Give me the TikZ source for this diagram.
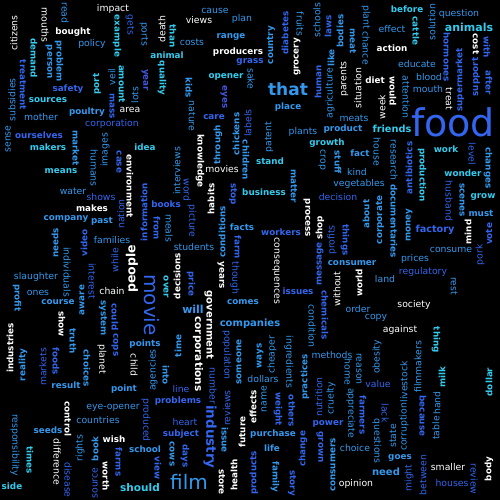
\documentclass[tikz,border=0pt]{standalone}
\usepackage{fontspec}
\setmainfont{DejaVu Sans}
\definecolor{cya}{HTML}{33CCEE}
\definecolor{sky}{HTML}{3399EE}
\definecolor{blu}{HTML}{3366EE}
\definecolor{ind}{HTML}{4455DD}
\begin{document}
\begin{tikzpicture}[x=1pt,y=-1pt,
	bw/.style={font=\bfseries\fontsize{#1}{#1}\selectfont}, bw/.default=8.8,
	rw/.style={font=\fontsize{#1}{#1}\selectfont}, rw/.default=9.3]
	\tikzstyle{every node}=[inner sep=0pt, anchor=center]
	\useasboundingbox (0,0) rectangle (500,500);
	\fill[black] (0,0) rectangle (500,500);
	\draw (65,13) node (read) [rw,sky,rotate=-90] {read};
	\draw (45,25) node (mouths) [rw,white,rotate=-90] {mouths};
	\draw (113,9) node (impact) [rw,white] {impact};
	\draw (73,32) node (bought) [bw,white] {bought};
	\draw (14,33) node (citizens) [rw,white,rotate=90] {citizens};
	\draw (92,44) node (policy) [rw,sky] {policy};
	\draw (117,36) node (example) [bw,cya,rotate=-90] {example};
	\draw (130,25) node (gets) [rw,blu,rotate=-90] {gets};
	\draw (144,34) node (ports) [rw,sky,rotate=-90] {ports};
	\draw (162,29) node (death) [rw,white,rotate=90] {death};
	\draw (34,58) node (demand) [bw,cya,rotate=-90] {demand};
	\draw (49,62) node (person) [bw,sky,rotate=-90] {person};
	\draw (59,61) node (problem) [bw,sky,rotate=-90] {problem};
	\draw (23,85) node (treatment) [bw,blu,rotate=-90] {treatment};
	\draw (12,100) node (subsidies) [rw,sky,rotate=90] {subsidies};
	\draw (167,55) node (animal) [bw,cya] {animal};
	\draw (162,78) node (quality) [bw,cya,rotate=-90] {quality};
	\draw (145,80) node (year) [bw,ind,rotate=-90] {year};
	\draw (122,84) node (amount) [bw,cya,rotate=-90] {amount};
	\draw (112,77) node (veil) [rw,sky,rotate=90] {veil};
	\draw (97,84) node (port) [bw,cya,rotate=90] {port};
	\draw (135,95) node (lots) [rw,sky,rotate=90] {lots};
	\draw (68,89) node (safety) [bw,blu] {safety};
	\draw (48,100) node (sources) [bw,cya] {sources};
	\draw (112,106) node (mass) [bw,blu,rotate=-90] {mass};
	\draw (130,110) node (area) [rw,white] {area};
	\draw (87,112) node (poultry) [bw,sky] {poultry};
	\draw (41,117) node (mother) [rw,sky] {mother};
	\draw (112,124) node (corporation) [rw,blu] {corporation};
	\draw (8,139) node (sense) [rw,sky,rotate=90] {sense};
	\draw (39,135) node (ourselves) [bw,blu] {ourselves};
	\draw (76,148) node (market) [bw,sky,rotate=-90] {market};
	\draw (48,147) node (makers) [bw,cya] {makers};
	\draw (145,147) node (idea) [bw,cya] {idea};
	\draw (105,150) node (images) [rw,sky,rotate=90] {images};
	\draw (94,168) node (humans) [rw,sky,rotate=-90] {humans};
	\draw (119,162) node (case) [bw,blu,rotate=-90] {case};
	\draw (130,186) node (environment) [bw,white,rotate=-90] {environment};
	\draw (61,171) node (means) [bw,cya] {means};
	\draw (173,36) node (than) [bw,cya,rotate=-90] {than};
	\draw (215,11) node (cause) [rw,sky] {cause};
	\draw (199,20) node (views) [rw,white] {views};
	\draw (242,19) node (plan) [rw,sky] {plan};
	\draw (192,42) node (costs) [rw,sky] {costs};
	\draw (231,37) node (range) [bw,sky] {range};
	\draw (238,52) node (producers) [bw,white] {producers};
	\draw (250,62) node (grass) [bw,blu] {grass};
	\draw (271,45) node (country) [bw,sky,rotate=90] {country};
	\draw (285,33) node (diabetes) [bw,blu,rotate=90] {diabetes};
	\draw (297,57) node (grocery) [bw,white,rotate=90] {grocery};
	\draw (300,24) node (fruits) [rw,sky,rotate=-90] {fruits};
	\draw (317,20) node (schools) [rw,sky,rotate=90] {schools};
	\draw (328,26) node (laws) [bw,blu,rotate=90] {laws};
	\draw (331,58) node (like) [bw,sky,rotate=90] {like};
	\draw (226,77) node (opener) [bw,cya] {opener};
	\draw (251,79) node (sake) [rw,sky,rotate=-90] {sake};
	\draw (189,88) node (kids) [bw,sky,rotate=-90] {kids};
	\draw (224,97) node (eyes) [bw,ind,rotate=-90] {eyes};
	\draw (288,89) node (that) [bw=17,sky] {that};
	\draw (318,82) node (human) [bw,blu,rotate=90] {human};
	\draw (330,93) node (agriculture) [rw,sky,rotate=90] {agriculture};
	\draw (192,116) node (nature) [rw,sky,rotate=-90] {nature};
	\draw (214,117) node (care) [bw,blu] {care};
	\draw (288,107) node (place) [bw,sky] {place};
	\draw (236,134) node (chickens) [bw,sky,rotate=90] {chickens};
	\draw (218,145) node (through) [bw,sky,rotate=90] {through};
	\draw (248,123) node (labels) [rw,blu,rotate=90] {labels};
	\draw (269,137) node (patent) [rw,sky,rotate=90] {patent};
	\draw (303,132) node (plants) [rw,sky] {plants};
	\draw (343,129) node (product) [bw,sky] {product};
	\draw (327,143) node (growth) [bw,cya] {growth};
	\draw (322,160) node (crop) [rw,sky,rotate=-90] {crop};
	\draw (177,171) node (interviews) [rw,sky,rotate=90] {interviews};
	\draw (200,161) node (knowledge) [bw,white,rotate=-90] {knowledge};
	\draw (222,169) node (movies) [rw,white] {movies};
	\draw (246,160) node (children) [bw,sky,rotate=-90] {children};
	\draw (270,161) node (stand) [bw,cya] {stand};
	\draw (353,41) node (meat) [bw,sky,rotate=-90] {meat};
	\draw (340,31) node (bodies) [bw,sky,rotate=90] {bodies};
	\draw (407,9) node (before) [bw,cya] {before};
	\draw (366,17) node (plant) [rw,sky,rotate=-90] {plant};
	\draw (366,48) node (chance) [rw,sky,rotate=-90] {chance};
	\draw (392,29) node (effect) [rw,sky] {effect};
	\draw (416,31) node (cattle) [bw,cya,rotate=-90] {cattle};
	\draw (432,22) node (solution) [rw,sky,rotate=90] {solution};
	\draw (459,14) node (question) [rw,sky] {question};
	\draw (469,27) node (animals) [bw=11,cya] {animals};
	\draw (392,48) node (action) [bw,white] {action};
	\draw (447,57) node (hormones) [bw,blu,rotate=-90] {hormones};
	\draw (460,80) node (supermarket) [bw,blu,rotate=90] {supermarket};
	\draw (476,44) node (cost) [bw,white,rotate=-90] {cost};
	\draw (476,77) node (support) [bw,blu,rotate=90] {support};
	\draw (487,47) node (with) [bw,blu,rotate=-90] {with};
	\draw (489,83) node (after) [bw,blu,rotate=-90] {after};
	\draw (344,79) node (parents) [rw,white,rotate=90] {parents};
	\draw (358,88) node (situation) [rw,white,rotate=90] {situation};
	\draw (417,64) node (educate) [rw,sky] {educate};
	\draw (429,77) node (blood) [rw,sky] {blood};
	\draw (428,89) node (mouth) [rw,sky] {mouth};
	\draw (375,80) node (diet) [bw,white] {diet};
	\draw (393,91) node (would) [bw,white,rotate=-90] {would};
	\draw (406,97) node (attention) [rw,sky,rotate=-90] {attention};
	\draw (382,107) node (week) [rw,white,rotate=90] {week};
	\draw (449,99) node (treat) [rw,white,rotate=-90] {treat};
	\draw (354,118) node (meats) [rw,sky] {meats};
	\draw (453,122) node (food) [rw=38,blu] {food};
	\draw (392,129) node (friends) [bw=9.8,cya] {friends};
	\draw (377,152) node (house) [rw,sky,rotate=-90] {house};
	\draw (394,160) node (research) [rw,sky,rotate=-90] {research};
	\draw (409,168) node (antibiotics) [bw,blu,rotate=90] {antibiotics};
	\draw (422,175) node (production) [bw,cya,rotate=-90] {production};
	\draw (446,149) node (work) [bw,cya] {work};
	\draw (472,154) node (level) [rw,blu,rotate=-90] {level};
	\draw (338,162) node (stuff) [bw,sky,rotate=-90] {stuff};
	\draw (360,153) node (fact) [bw,sky] {fact};
	\draw (488,168) node (changes) [bw,sky,rotate=-90] {changes};
	\draw (73,191) node (water) [rw,sky] {water};
	\draw (101,197) node (shows) [rw,blu] {shows};
	\draw (92,208) node (makes) [bw,white] {makes};
	\draw (66,219) node (company) [bw,sky] {company};
	\draw (102,221) node (past) [bw,sky] {past};
	\draw (121,214) node (nation) [rw,blu,rotate=90] {nation};
	\draw (144,212) node (information) [bw,blu,rotate=90] {information};
	\draw (166,204) node (books) [bw,blu] {books};
	\draw (157,228) node (from) [bw,blu,rotate=-90] {from};
	\draw (55,243) node (needs) [bw,sky,rotate=90] {needs};
	\draw (84,243) node (video) [bw,blu,rotate=90] {video};
	\draw (67,272) node (individuals) [rw,sky,rotate=-90] {individuals};
	\draw (112,240) node (families) [rw,sky] {families};
	\draw (115,260) node (while) [rw,blu,rotate=90] {while};
	\draw (132,269) node (people) [bw=12.5,white,rotate=90] {people};
	\draw (36,277) node (slaughter) [rw,sky] {slaughter};
	\draw (92,281) node (interest) [rw,blu,rotate=-90] {interest};
	\draw (38,293) node (ones) [rw,sky] {ones};
	\draw (112,291) node (chain) [rw,white] {chain};
	\draw (17,298) node (profit) [bw,sky,rotate=-90] {profit};
	\draw (58,302) node (course) [bw,sky] {course};
	\draw (82,300) node (aware) [bw,sky,rotate=90] {aware};
	\draw (152,305) node (movie) [rw=20,blu,rotate=-90] {movie};
	\draw (166,287) node (over) [bw,cya,rotate=-90] {over};
	\draw (103,318) node (system) [bw,sky,rotate=-90] {system};
	\draw (115,317) node (could) [bw,blu,rotate=-90] {could};
	\draw (62,324) node (show) [bw,white,rotate=-90] {show};
	\draw (73,341) node (truth) [bw,sky,rotate=-90] {truth};
	\draw (10,348) node (industries) [bw,white,rotate=90] {industries};
	\draw (115,345) node (cops) [bw,blu,rotate=-90] {cops};
	\draw (187,190) node (word) [rw,blu,rotate=-90] {word};
	\draw (192,221) node (picture) [rw,blu,rotate=-90] {picture};
	\draw (169,228) node (meals) [rw,sky,rotate=-90] {meals};
	\draw (194,247) node (students) [rw,sky] {students};
	\draw (211,199) node (habits) [bw,white,rotate=90] {habits};
	\draw (233,194) node (stop) [bw,blu,rotate=-90] {stop};
	\draw (264,192) node (business) [bw,cya] {business};
	\draw (294,186) node (matter) [bw,sky,rotate=-90] {matter};
	\draw (307,218) node (process) [bw,white,rotate=-90] {process};
	\draw (222,232) node (conditions) [bw,sky,rotate=90] {conditions};
	\draw (242,227) node (facts) [bw,sky] {facts};
	\draw (281,232) node (workers) [bw,blu] {workers};
	\draw (238,247) node (farm) [bw,blu,rotate=-90] {farm};
	\draw (276,271) node (consequences) [rw,white,rotate=-90] {consequences};
	\draw (320,264) node (message) [bw,blu,rotate=90] {message};
	\draw (320,228) node (shop) [bw,white,rotate=90] {shop};
	\draw (332,240) node (profits) [rw,blu,rotate=90] {profits};
	\draw (177,276) node (decisions) [bw,white,rotate=90] {decisions};
	\draw (191,284) node (price) [bw,blu,rotate=-90] {price};
	\draw (221,275) node (years) [bw,white,rotate=-90] {years};
	\draw (235,278) node (though) [rw,blu,rotate=-90] {though};
	\draw (298,291) node (issues) [bw,blu] {issues};
	\draw (193,309) node (will) [bw=11,sky] {will};
	\draw (209,325) node (government) [bw=10,white,rotate=-90] {government};
	\draw (243,302) node (comes) [bw,sky] {comes};
	\draw (325,315) node (chemicals) [bw,blu,rotate=-90] {chemicals};
	\draw (312,326) node (condition) [rw,sky,rotate=-90] {condition};
	\draw (250,324) node (companies) [bw=10,sky] {companies};
	\draw (198,354) node (corporations) [bw=10.5,white,rotate=-90] {corporations};
	\draw (227,355) node (population) [rw,blu,rotate=-90] {population};
	\draw (338,197) node (decision) [rw,blu] {decision};
	\draw (357,172) node (kind) [rw,sky] {kind};
	\draw (359,184) node (vegetables) [rw,sky] {vegetables};
	\draw (366,214) node (about) [bw,sky,rotate=90] {about};
	\draw (345,240) node (things) [bw,blu,rotate=-90] {things};
	\draw (380,220) node (corporate) [bw,sky,rotate=90] {corporate};
	\draw (394,221) node (documentaries) [bw,sky,rotate=-90] {documentaries};
	\draw (409,225) node (money) [bw,sky,rotate=90] {money};
	\draw (435,230) node (factory) [bw=9.7,blu] {factory};
	\draw (449,201) node (husband) [rw,blu,rotate=-90] {husband};
	\draw (462,200) node (scenes) [bw,sky,rotate=-90] {scenes};
	\draw (463,173) node (wonder) [bw,cya] {wonder};
	\draw (483,197) node (grow) [bw,cya] {grow};
	\draw (481,213) node (must) [bw,sky] {must};
	\draw (468,232) node (mind) [bw,white,rotate=90] {mind};
	\draw (489,234) node (vote) [bw,blu,rotate=90] {vote};
	\draw (451,250) node (consume) [rw,sky] {consume};
	\draw (480,255) node (pork) [rw,blu,rotate=90] {pork};
	\draw (415,259) node (prices) [rw,sky] {prices};
	\draw (352,263) node (consumer) [bw,sky] {consumer};
	\draw (423,272) node (regulatory) [rw,blu] {regulatory};
	\draw (385,279) node (land) [rw,sky] {land};
	\draw (454,286) node (rest) [rw,sky,rotate=-90] {rest};
	\draw (337,289) node (without) [rw,white,rotate=90] {without};
	\draw (359,283) node (world) [bw,white,rotate=90] {world};
	\draw (358,309) node (order) [rw,sky] {order};
	\draw (414,305) node (society) [rw,white] {society};
	\draw (376,318) node (copy) [rw,sky] {copy};
	\draw (400,330) node (against) [rw,white] {against};
	\draw (436,340) node (thing) [bw,cya,rotate=-90] {thing};
	\draw (23,365) node (reality) [bw,sky,rotate=90] {reality};
	\draw (43,367) node (markets) [rw,blu,rotate=90] {markets};
	\draw (56,361) node (foods) [bw,blu,rotate=-90] {foods};
	\draw (87,368) node (choices) [bw,sky,rotate=-90] {choices};
	\draw (66,385) node (result) [bw,sky] {result};
	\draw (102,359) node (planet) [rw,white,rotate=-90] {planet};
	\draw (145,344) node (points) [bw,sky] {points};
	\draw (134,365) node (child) [rw,white,rotate=-90] {child};
	\draw (153,370) node (agencies) [rw,sky,rotate=90] {agencies};
	\draw (166,375) node (into) [bw,sky,rotate=-90] {into};
	\draw (124,389) node (point) [bw,sky] {point};
	\draw (68,419) node (control) [bw,white,rotate=-90] {control};
	\draw (113,408) node (eyeopener) [rw,sky] {eye-opener};
	\draw (146,420) node (produced) [rw,blu,rotate=-90] {produced};
	\draw (178,401) node (problems) [bw,blu] {problems};
	\draw (98,420) node (countries) [rw,sky] {countries};
	\draw (48,430) node (seeds) [bw,sky] {seeds};
	\draw (15,445) node (responsibility) [rw,sky,rotate=-90] {responsibility};
	\draw (57,462) node (difference) [rw,white,rotate=-90] {difference};
	\draw (80,448) node (rights) [rw,sky,rotate=90] {rights};
	\draw (114,439) node (wish) [bw,white] {wish};
	\draw (119,462) node (farms) [bw,blu,rotate=-90] {farms};
	\draw (145,449) node (school) [bw,sky] {school};
	\draw (95,449) node (book) [bw,sky,rotate=90] {book};
	\draw (30,460) node (times) [bw,cya,rotate=-90] {times};
	\draw (68,480) node (disease) [rw,blu,rotate=-90] {disease};
	\draw (95,483) node (source) [rw,blu,rotate=90] {source};
	\draw (106,476) node (worth) [bw,white,rotate=-90] {worth};
	\draw (158,468) node (view) [bw,blu,rotate=-90] {view};
	\draw (12,486) node (side) [bw,cya] {side};
	\draw (140,488) node (should) [bw=10.5,cya] {should};
	\draw (181,434) node (subject) [bw,blu] {subject};
	\draw (178,346) node (time) [bw,sky,rotate=90] {time};
	\draw (213,386) node (number) [rw,blu,rotate=-90] {number};
	\draw (181,389) node (line) [rw,blu] {line};
	\draw (185,422) node (heart) [rw,blu] {heart};
	\draw (172,454) node (cows) [bw,sky,rotate=-90] {cows};
	\draw (185,456) node (days) [bw,blu,rotate=-90] {days};
	\draw (189,482) node (film) [rw=20,sky] {film};
	\draw (210,437) node (industry) [bw=13.5,blu,rotate=-90] {industry};
	\draw (239,362) node (someone) [bw,sky,rotate=90] {someone};
	\draw (227,408) node (reviews) [rw,blu,rotate=90] {reviews};
	\draw (225,440) node (issue) [bw,sky,rotate=-90] {issue};
	\draw (242,432) node (future) [bw,white,rotate=90] {future};
	\draw (222,482) node (store) [bw,white,rotate=-90] {store};
	\draw (234,475) node (health) [bw,white,rotate=90] {health};
	\draw (260,356) node (ways) [bw,sky,rotate=90] {ways};
	\draw (272,355) node (cheaper) [rw,sky,rotate=90] {cheaper};
	\draw (289,362) node (ingredients) [rw,sky,rotate=-90] {ingredients};
	\draw (263,379) node (dollars) [rw,sky] {dollars};
	\draw (253,407) node (effects) [bw,white,rotate=90] {effects};
	\draw (264,399) node (name) [rw,sky,rotate=90] {name};
	\draw (278,409) node (weight) [bw,blu,rotate=-90] {weight};
	\draw (292,411) node (others) [bw,blu,rotate=-90] {others};
	\draw (305,377) node (practices) [bw,sky,rotate=90] {practices};
	\draw (319,397) node (nutrition) [rw,blu,rotate=90] {nutrition};
	\draw (331,398) node (cruelty) [rw,sky,rotate=90] {cruelty};
	\draw (332,355) node (methods) [rw,sky] {methods};
	\draw (273,434) node (purchase) [bw,sky] {purchase};
	\draw (272,448) node (life) [bw,sky] {life};
	\draw (254,473) node (products) [bw,blu,rotate=90] {products};
	\draw (275,477) node (family) [bw,sky,rotate=-90] {family};
	\draw (292,483) node (story) [bw,blu,rotate=-90] {story};
	\draw (303,449) node (change) [bw,blu,rotate=90] {change};
	\draw (328,424) node (power) [bw,blu] {power};
	\draw (320,447) node (grown) [bw,blu,rotate=-90] {grown};
	\draw (333,465) node (consumers) [bw,sky,rotate=90] {consumers};
	\draw (377,357) node (obesity) [rw,sky,rotate=90] {obesity};
	\draw (348,372) node (home) [rw,sky,rotate=-90] {home};
	\draw (359,369) node (reason) [rw,sky,rotate=-90] {reason};
	\draw (378,384) node (value) [rw,blu] {value};
	\draw (404,382) node (livestock) [rw,sky,rotate=90] {livestock};
	\draw (418,367) node (filmmakers) [rw,sky,rotate=90] {filmmakers};
	\draw (442,377) node (milk) [bw,cya,rotate=90] {milk};
	\draw (489,382) node (dollar) [bw,cya,rotate=90] {dollar};
	\draw (351,413) node (appreciate) [rw,sky,rotate=-90] {appreciate};
	\draw (363,415) node (farmers) [bw,blu,rotate=-90] {farmers};
	\draw (377,441) node (questions) [rw,sky,rotate=-90] {questions};
	\draw (385,413) node (lack) [rw,blu,rotate=-90] {lack};
	\draw (393,436) node (state) [rw,sky,rotate=90] {state};
	\draw (404,427) node (corruption) [rw,sky,rotate=90] {corruption};
	\draw (423,416) node (because) [bw,blu,rotate=-90] {because};
	\draw (436,428) node (table) [rw,sky,rotate=90] {table};
	\draw (437,403) node (hand) [rw,sky,rotate=90] {hand};
	\draw (355,448) node (choice) [rw,sky] {choice};
	\draw (400,458) node (goes) [bw,sky] {goes};
	\draw (386,472) node (need) [bw=10,sky] {need};
	\draw (409,478) node (might) [rw,blu,rotate=90] {might};
	\draw (423,475) node (between) [rw,blu,rotate=90] {between};
	\draw (448,467) node (smaller) [rw,white] {smaller};
	\draw (452,483) node (houses) [rw,blu] {houses};
	\draw (474,479) node (review) [rw,blu,rotate=-90] {review};
	\draw (489,469) node (body) [bw,white,rotate=90] {body};
	\draw (356,484) node (opinion) [rw,white] {opinion};
\end{tikzpicture}
\end{document}
